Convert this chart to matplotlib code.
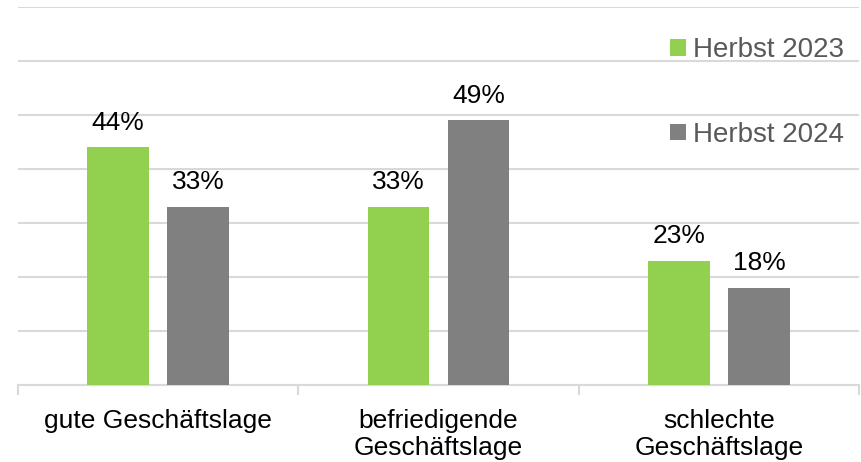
import numpy as np
import matplotlib
matplotlib.use("Agg")
import matplotlib.pyplot as plt

plt.rcParams['font.family'] = ['Liberation Sans', 'DejaVu Sans']

# data
categories = ["gute Geschäftslage", "befriedigende\nGeschäftslage", "schlechte\nGeschäftslage"]
herbst_2023 = [44, 33, 23]
herbst_2024 = [33, 49, 18]
series_names = ["Herbst 2023", "Herbst 2024"]

green = "#92d050"
grey = "#808080"
gridc = "#d9d9d9"

fig = plt.figure(figsize=(8.62, 4.62), dpi=100)
ax = fig.add_axes([0.0209, 0.1667, 0.9756, 0.8181])

x = np.arange(len(categories))
w = 0.22
off = 0.143
b1 = ax.bar(x - off, herbst_2023, w, color=green, label=series_names[0], zorder=3)
b2 = ax.bar(x + off, herbst_2024, w, color=grey, label=series_names[1], zorder=3)

for bars in (b1, b2):
    for r in bars:
        ax.annotate("%d%%" % r.get_height(),
                    (r.get_x() + r.get_width() / 2, r.get_height()),
                    xytext=(0, 9), textcoords="offset points",
                    ha="center", va="bottom", fontsize=19, color="black")

ax.set_xlim(-0.5, len(categories) - 0.5)
ax.set_ylim(0, 70)
ax.set_yticks(np.arange(0, 71, 10))
ax.yaxis.grid(True, color=gridc, linewidth=1.5, zorder=0)
ax.tick_params(axis="y", left=False, labelleft=False)

# category labels, separator ticks on the baseline
ax.set_xticks(x)
ax.set_xticklabels(categories, fontsize=19, linespacing=1.2)
ax.tick_params(axis="x", length=0, pad=17)
ax.set_xticks(np.arange(-0.5, len(categories)), minor=True)
ax.tick_params(axis="x", which="minor", length=7, width=1.5, color=gridc)

for s in ["top", "left", "right"]:
    ax.spines[s].set_visible(False)
ax.spines["bottom"].set_color(gridc)
ax.spines["bottom"].set_linewidth(1.5)

leg = ax.legend(loc="upper right", bbox_to_anchor=(0.995, 0.95), frameon=False,
                fontsize=20, handlelength=0.55, handleheight=0.55,
                handletextpad=0.25, labelspacing=2.12, borderaxespad=0)
for t in leg.get_texts():
    t.set_color("#595959")

fig.savefig("out.png", dpi=100)
